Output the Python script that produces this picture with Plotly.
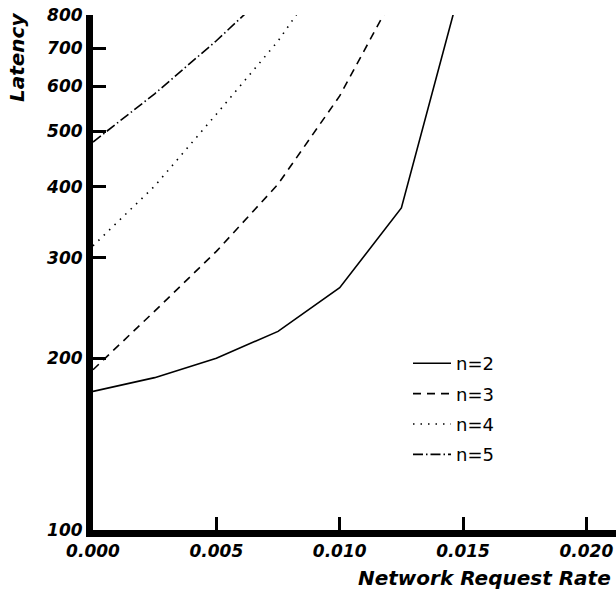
import plotly.graph_objects as go

# Data
rate = [0.0, 0.0025, 0.005, 0.0075, 0.010, 0.0125, 0.015]
lat_n2 = [175, 185, 200, 223, 266, 367, 930]
lat_n3 = [191, 242, 308, 404, 577, 915]
lat_n4 = [315, 401, 536, 720, 1030]
lat_n5 = [479, 582, 721, 910]
series_names = ["n=2", "n=3", "n=4", "n=5"]
y_ticks = [100, 200, 300, 400, 500, 600, 700, 800]
x_ticks = [0.0, 0.005, 0.010, 0.015, 0.020]

series = [lat_n2, lat_n3, lat_n4, lat_n5]
dashes = ["solid", "8px,6px", "1.5px,6px", "10px,3px,1.5px,3px"]

fig = go.Figure()
for i, (name, vals) in enumerate(zip(series_names, series)):
    fig.add_trace(go.Scatter(
        x=rate[:len(vals)], y=vals, mode="lines", name=name,
        legendgroup=name,
        line=dict(color="black", width=1.6, dash=dashes[i]),
    ))

tickfont = dict(family="DejaVu Sans", size=17, color="black", weight="bold", style="italic")
W, H = 616, 598
# plot area in page pixels
PX0, PX1, PY0, PY1 = 93, 616, 15, 530
L, R, T, B = PX0, W - PX1, PY0, H - PY1
PW, PH = PX1 - PX0, PY1 - PY0

def px(xp):
    return (xp - PX0) / PW

def py(yp):
    return (PY1 - yp) / PH

fig.update_layout(
    width=W, height=H,
    margin=dict(l=L, r=R, t=T, b=B, pad=0),
    paper_bgcolor="white", plot_bgcolor="white",
    showlegend=True,
    legend=dict(
        x=px(408), y=py(345),
        xanchor="left", yanchor="top",
        font=dict(family="DejaVu Sans", size=18, color="black"),
        bgcolor="rgba(0,0,0,0)", borderwidth=0,
        tracegroupgap=4, itemwidth=38,
    ),
    xaxis=dict(
        range=[0, 0.0212], tickvals=x_ticks, tickformat=".3f",
        showgrid=False, zeroline=False,
        showline=True, linecolor="black", linewidth=7,
        ticks="inside", ticklen=13, tickwidth=2.5, tickcolor="black",
        tickfont=tickfont,
    ),
    yaxis=dict(
        type="log", range=[2, 2.90309], tickvals=y_ticks,
        ticktext=[str(v) for v in y_ticks],
        showgrid=False, zeroline=False,
        showline=True, linecolor="black", linewidth=7,
        ticks="inside", ticklen=13, tickwidth=2.5, tickcolor="black",
        tickfont=tickfont,
    ),
    annotations=[
        dict(text="Latency", textangle=-90, showarrow=False,
             xref="paper", yref="paper",
             x=px(17), y=py(57),
             xanchor="center", yanchor="middle",
             font=dict(family="DejaVu Sans", size=20, color="black", weight="bold", style="italic")),
        dict(text="Network Request Rate", showarrow=False,
             xref="paper", yref="paper",
             x=px(613), y=py(578),
             xanchor="right", yanchor="middle",
             font=dict(family="DejaVu Sans", size=20, color="black", weight="bold", style="italic")),
    ],
)

fig.write_html(
    "out.html",
    config={"displayModeBar": False},
    post_script="document.body.style.margin='0';document.body.style.overflow='hidden';",
)
